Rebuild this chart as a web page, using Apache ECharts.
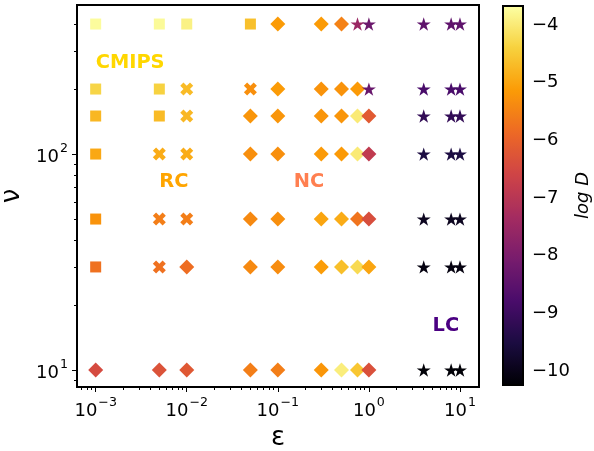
<!DOCTYPE html>
<html><head><meta charset="utf-8">
<script src="https://cdn.jsdelivr.net/npm/echarts@6/dist/echarts.min.js"></script>
<style>html,body{margin:0;padding:0;background:#fff}#c{width:594px;height:451px}</style>
</head><body><div id="c"></div>
<script>
// ---------------- data ----------------
const epsilon = [0.001, 0.005, 0.01, 0.05, 0.1, 0.3, 0.5, 0.75, 1, 4, 8, 10];
const nuValues = [400, 200, 150, 100, 50, 30, 10];
// regime codes: S = CMIPS (square), X = RC (cross), D = NC (diamond), T = LC (star)
const regime400 = ['S','S','S','S','D','D','D','T','T','T','T','T'];
const regime200 = ['S','S','X','X','D','D','D','D','T','T','T','T'];
const regime150 = ['S','S','X','D','D','D','D','D','D','T','T','T'];
const regime100 = ['S','X','X','D','D','D','D','D','D','T','T','T'];
const regime50  = ['S','X','X','D','D','D','D','D','D','T','T','T'];
const regime30  = ['S','X','D','D','D','D','D','D','D','T','T','T'];
const regime10  = ['D','D','D','D','D','D','D','D','D','T','T','T'];
// log D values (colour)
const logD400 = [-3.72,-3.75,-3.9,-4.63,-5.13,-5.13,-5.5,-7.5,-8.25,-8.45,-8.45,-8.45];
const logD200 = [-4.33,-4.38,-4.7,-5.3,-5.13,-5.25,-5.25,-5.15,-8.3,-8.8,-8.8,-8.8];
const logD150 = [-4.75,-4.7,-4.75,-5.22,-5.22,-5.22,-5.22,-4.0,-6.15,-9.15,-9.15,-9.15];
const logD100 = [-4.95,-4.9,-4.9,-5.3,-5.3,-5.15,-5.15,-4.0,-6.85,-9.5,-9.5,-9.5];
const logD50  = [-5.25,-5.55,-5.55,-5.4,-5.3,-5.0,-4.9,-5.7,-6.4,-9.9,-9.9,-9.9];
const logD30  = [-5.75,-5.75,-5.8,-5.4,-5.35,-5.1,-4.65,-4.25,-5.0,-10.1,-10.1,-10.1];
const logD10  = [-6.45,-6.3,-6.2,-5.55,-5.55,-5.2,-3.95,-4.55,-6.35,-10.2,-10.2,-10.2];
const colorRange = [-10.24, -3.67];
// annotations
const annotText = ['CMIPS', 'RC', 'NC', 'LC'];
const annotEps = [0.001, 0.005, 0.15, 5];
const annotNu = [250, 70, 70, 15];
// ticks
const xTickValues = [0.001, 0.01, 0.1, 1, 10];
const yTickValues = [10, 100];
const cbTickValues = [-10, -9, -8, -7, -6, -5, -4];

// ---------------- styling ----------------
const FONT = 'DejaVu Sans';
const annotColor = {CMIPS: '#FFD700', RC: '#FFA500', NC: '#FF7F50', LC: '#4B0082'};
const inferno = ['#000004','#1b0c41','#4a0c6b','#781c6d','#a52c60','#cf4446','#ed6925','#fb9b06','#f7d13d','#fcffa4'];
const symbolOf = {
  S: 'rect',
  X: 'path://M0,3L1,4L2,3L3,4L4,3L3,2L4,1L3,0L2,1L1,0L0,1L1,2Z',
  D: 'diamond',
  T: 'path://M0,-100L-22.45,-30.9L-95.1,-30.9L-36.3,11.8L-58.8,80.9L0,38.2L58.8,80.9L36.3,11.8L95.1,-30.9L22.45,-30.9Z'
};
const sizeOf = {S: 11, X: 13, D: 15, T: 14};

const rows = [
  [regime400, logD400], [regime200, logD200], [regime150, logD150], [regime100, logD100],
  [regime50, logD50], [regime30, logD30], [regime10, logD10]
];

function buildSeries(code) {
  const data = [];
  rows.forEach((r, i) => {
    r[0].forEach((g, j) => { if (g === code) data.push([epsilon[j], nuValues[i], r[1][j]]); });
  });
  return {
    type: 'scatter', xAxisIndex: 0, yAxisIndex: 0,
    symbol: symbolOf[code], symbolSize: sizeOf[code], symbolKeepAspect: true,
    data: data, itemStyle: {opacity: 1}, silent: true, animation: false
  };
}

function minorTicks(lo, hi) {
  const out = [];
  for (let k = -4; k <= 3; k++) for (let m = 2; m <= 9; m++) {
    const v = m * Math.pow(10, k);
    if (v > lo && v < hi) out.push(v);
  }
  return out;
}

const xMin = Math.pow(10, -3.205), xMax = Math.pow(10, 1.209);
const yMin = 8.34, yMax = 490;

const supRich = {
  b: {fontFamily: FONT, fontSize: 18, color: '#000', verticalAlign: 'bottom', lineHeight: 24},
  s: {fontFamily: FONT, fontSize: 12.6, color: '#000', verticalAlign: 'top', lineHeight: 14, padding: [0, 0, 0, 1]}
};
function supFmt(v) {
  const e = Math.round(Math.log10(v));
  return '{b|10}{s|' + (e < 0 ? '\u2212' + (-e) : e) + '}';
}

const series = ['S', 'X', 'D', 'T'].map(buildSeries);
series.push({
  type: 'scatter', xAxisIndex: 0, yAxisIndex: 0, symbolSize: 0, silent: true, animation: false,
  itemStyle: {opacity: 1},
  data: annotText.map((t, i) => ({
    value: [annotEps[i], annotNu[i]],
    label: {show: true, formatter: t, color: annotColor[t]}
  })),
  label: {position: [0, 0], align: 'left', verticalAlign: 'bottom', offset: [0, 4], opacity: 1,
          fontFamily: FONT, fontWeight: 'bold', fontSize: 19.4}
});

const chart = echarts.init(document.getElementById('c'), null, {renderer: 'canvas'});
chart.setOption({
  animation: false,
  backgroundColor: '#fff',
  grid: [
    {left: 77, right: 115, top: 5, bottom: 64, show: true, borderColor: '#000', borderWidth: 2,
     backgroundColor: 'transparent', z: 10, outerBoundsMode: 'none', containLabel: false},
    {left: 503, width: 20, top: 6, height: 379, show: true, borderColor: '#000', borderWidth: 2,
     backgroundColor: 'transparent', z: 10, outerBoundsMode: 'none', containLabel: false}
  ],
  xAxis: [
    {type: 'log', logBase: 10, gridIndex: 0, min: xMin, max: xMax, position: 'bottom',
     axisLine: {show: true, lineStyle: {color: '#000', width: 2}},
     axisTick: {show: true, length: 5, lineStyle: {color: '#000', width: 1}, customValues: xTickValues},
     axisLabel: {show: true, customValues: xTickValues, formatter: supFmt, rich: supRich, margin: 9},
     splitLine: {show: false}, minorTick: {show: false},
     name: '\u03b5', nameLocation: 'middle', nameGap: 28,
     nameTextStyle: {fontFamily: FONT, fontSize: 26, color: '#000'}},
    {type: 'log', logBase: 10, gridIndex: 0, min: xMin, max: xMax, position: 'bottom',
     axisLine: {show: false},
     axisTick: {show: true, length: 3, lineStyle: {color: '#000', width: 1}, customValues: minorTicks(xMin, xMax)},
     axisLabel: {show: false}, splitLine: {show: false}},
    {type: 'value', gridIndex: 1, show: false, min: 0, max: 1}
  ],
  yAxis: [
    {type: 'log', logBase: 10, gridIndex: 0, min: yMin, max: yMax, position: 'left',
     axisLine: {show: true, lineStyle: {color: '#000', width: 2}},
     axisTick: {show: true, length: 5, lineStyle: {color: '#000', width: 1}, customValues: yTickValues},
     axisLabel: {show: true, customValues: yTickValues, formatter: supFmt, rich: supRich, margin: 9},
     splitLine: {show: false},
     name: '\u03bd', nameLocation: 'middle', nameGap: 45, nameRotate: 90,
     nameTextStyle: {fontFamily: FONT, fontSize: 26, color: '#000'}},
    {type: 'log', logBase: 10, gridIndex: 0, min: yMin, max: yMax, position: 'left',
     axisLine: {show: false},
     axisTick: {show: true, length: 3, lineStyle: {color: '#000', width: 1}, customValues: minorTicks(yMin, yMax)},
     axisLabel: {show: false}, splitLine: {show: false}},
    {type: 'value', gridIndex: 1, min: colorRange[0], max: colorRange[1], position: 'right',
     axisLine: {show: false},
     axisTick: {show: true, length: 5, lineStyle: {color: '#000', width: 1}, customValues: cbTickValues},
     axisLabel: {show: true, customValues: cbTickValues, margin: 9, fontFamily: FONT, fontSize: 18, color: '#000',
                 formatter: v => (v < 0 ? '\u2212' + Math.abs(v) : String(v))},
     splitLine: {show: false},
     name: 'log D', nameLocation: 'middle', nameGap: 45, nameRotate: 90,
     nameTextStyle: {fontFamily: FONT, fontSize: 18, fontStyle: 'italic', color: '#000'}}
  ],
  visualMap: {
    type: 'continuous', min: colorRange[0], max: colorRange[1], dimension: 2, seriesIndex: [0, 1, 2, 3],
    orient: 'vertical', left: 503, top: 6, itemWidth: 20, itemHeight: 379, padding: 0,
    calculable: false, text: null, showLabel: false, hoverLink: false, realtime: false,
    inRange: {color: inferno}
  },
  series: series
});
</script></body></html>
